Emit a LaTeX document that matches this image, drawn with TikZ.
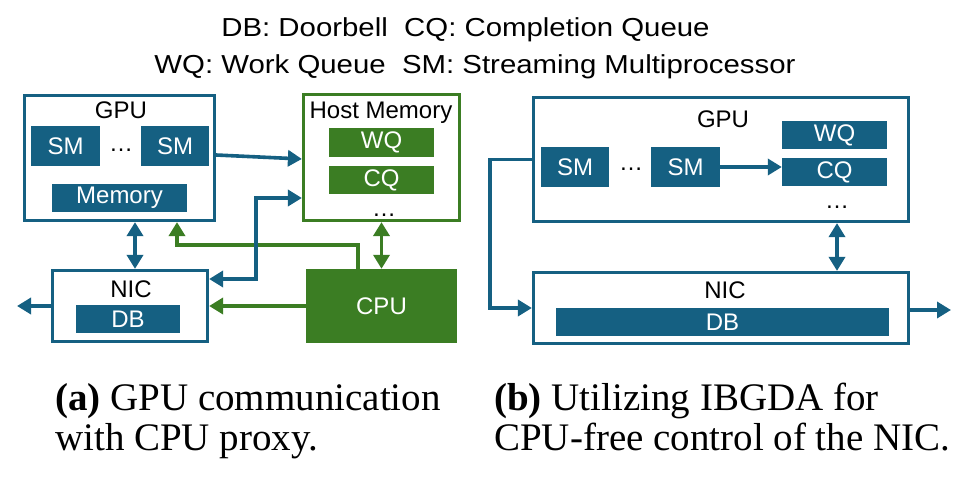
\documentclass[tikz,border=0pt]{standalone}
\usepackage{fontspec}
\setmainfont{Liberation Serif}
\newfontfamily\lsans{Liberation Sans}
\newfontfamily\titlefont[FakeStretch=1.13]{Liberation Sans}
\usetikzlibrary{arrows.meta}
\definecolor{nblue}{HTML}{156082}
\definecolor{ngreen}{HTML}{3B7D23}
\begin{document}
\begin{tikzpicture}[x=1pt,y=-1pt,
  >={Triangle[length=14pt,width=16pt]},
  frame/.style={draw, line width=3.2pt, inner sep=0pt, fill=white},
  bluebox/.style={frame, draw=nblue},
  greenbox/.style={frame, draw=ngreen},
  sz/.style 2 args={minimum width=#1, minimum height=#2},
  bfill/.style={fill=nblue, text=white, inner sep=0pt, font=\lsans\fontsize{24}{24}\selectfont},
  gfill/.style={fill=ngreen, text=white, inner sep=0pt, font=\lsans\fontsize{24}{24}\selectfont},
  lbl/.style={font=\lsans\fontsize{24}{24}\selectfont, anchor=base, inner sep=0pt},
  conn/.style={line width=3.6pt},
  bconn/.style={conn, draw=nblue},
  gconn/.style={conn, draw=ngreen},
  ttl/.style={font=\titlefont\fontsize{26}{26}\selectfont, anchor=base, inner sep=0pt},
  captext/.style={font=\fontsize{39}{40}\selectfont, anchor=base west, align=left, inner sep=0pt}
]
\useasboundingbox (0,0) rectangle (977,492);

% title
\node[ttl] (t1) at (465.5,37) {DB: Doorbell\ \ CQ: Completion Queue};
\node[ttl] (t2) at (475,74) {WQ: Work Queue\ \ SM: Streaming Multiprocessor};

% ---------- (a) ----------
\node[bluebox, sz={190pt}{125pt}] (GPUa) at (119.5,158) {};
\node[lbl] (GPUalbl) at (121,119) {GPU};
\node[bfill, sz={69pt}{40pt}] (SMa1) at (65.5,146) {SM};
\node[lbl] (dotsa) at (121,151) {…};
\node[bfill, sz={68pt}{40pt}] (SMa2) at (175,146) {SM};
\node[bfill, sz={135pt}{28pt}] (Mem) at (119.5,198) {Memory};

\node[greenbox, sz={156pt}{126pt}] (Host) at (381.5,157.5) {};
\node[lbl] (Hostlbl) at (381,119) {Host Memory};
\node[gfill, sz={105pt}{29pt}] (WQa) at (381.5,142.5) {WQ};
\node[gfill, sz={105pt}{28pt}] (CQa) at (381.5,180) {CQ};
\node[lbl] (dotsh) at (384,216) {…};

\node[bluebox, sz={155pt}{71pt}] (NICa) at (130,306) {};
\node[lbl] (NICalbl) at (131,297) {NIC};
\node[bfill, sz={104pt}{28pt}] (DBa) at (128,319) {DB};

\node[gfill, sz={151pt}{74pt}] (CPU) at (381.5,306) {CPU};

\coordinate (outA) at (17,306);
\coordinate (hn) at (256,240);

\draw[bconn,->] ([yshift=3pt]GPUa.east) -- ([yshift=-1.5pt]Host.west);
\draw[bconn,<->] ([xshift=5pt]NICa.north |- GPUa.south) -- ([xshift=5pt]NICa.north);
\draw[gconn,->] ([xshift=-23.5pt]CPU.north) |- ([xshift=57.5pt]GPUa.south |- 0,245) -- ([xshift=57.5pt]GPUa.south);
\draw[bconn,<->] ([yshift=-40.5pt]Host.west) -| (hn) |- ([yshift=27pt]NICa.east);
\draw[gconn,<->] (Host.south) -- (Host.south |- CPU.north);
\draw[gconn,->] (CPU.west) -- (NICa.east);
\draw[bconn,->] (NICa.west) -- (outA);

% ---------- (b) ----------
\node[bluebox, sz={375pt}{124pt}] (GPUb) at (721,159.5) {};
\node[lbl] (GPUblbl) at (723,128) {GPU};
\node[bfill, sz={68pt}{40pt}] (SMb1) at (575,167) {SM};
\node[lbl] (dotsb1) at (631,170) {…};
\node[bfill, sz={69pt}{40pt}] (SMb2) at (685.5,167) {SM};
\node[bfill, sz={105pt}{28pt}] (WQb) at (834.5,135) {WQ};
\node[bfill, sz={105pt}{28pt}] (CQb) at (834.5,172) {CQ};
\node[lbl] (dotsb2) at (837,208) {…};

\node[bluebox, sz={375pt}{71pt}] (NICb) at (721,308) {};
\node[lbl] (NICblbl) at (725,298) {NIC};
\node[bfill, sz={333pt}{28pt}] (DBb) at (722.5,322) {DB};

\coordinate (lb) at (490,230);
\coordinate (outB) at (951,310);

\draw[bconn,->] (SMb2.east) -- (SMb2.east -| CQb.west);
\draw[bconn,<->] (GPUb.south -| dotsb2) -- (NICb.north -| dotsb2);
\draw[bconn,->] (GPUb.west) -| (lb) |- (NICb.west);
\draw[bconn,->] (NICb.east |- outB) -- (outB);

% captions
\node[captext] (capa) at (55,450) {\textbf{(a)} GPU communication\\with CPU proxy.};
\node[captext] (capb) at (494,450) {\textbf{(b)} Utilizing IBGDA for\\CPU-free control of the NIC.};
\end{tikzpicture}
\end{document}
